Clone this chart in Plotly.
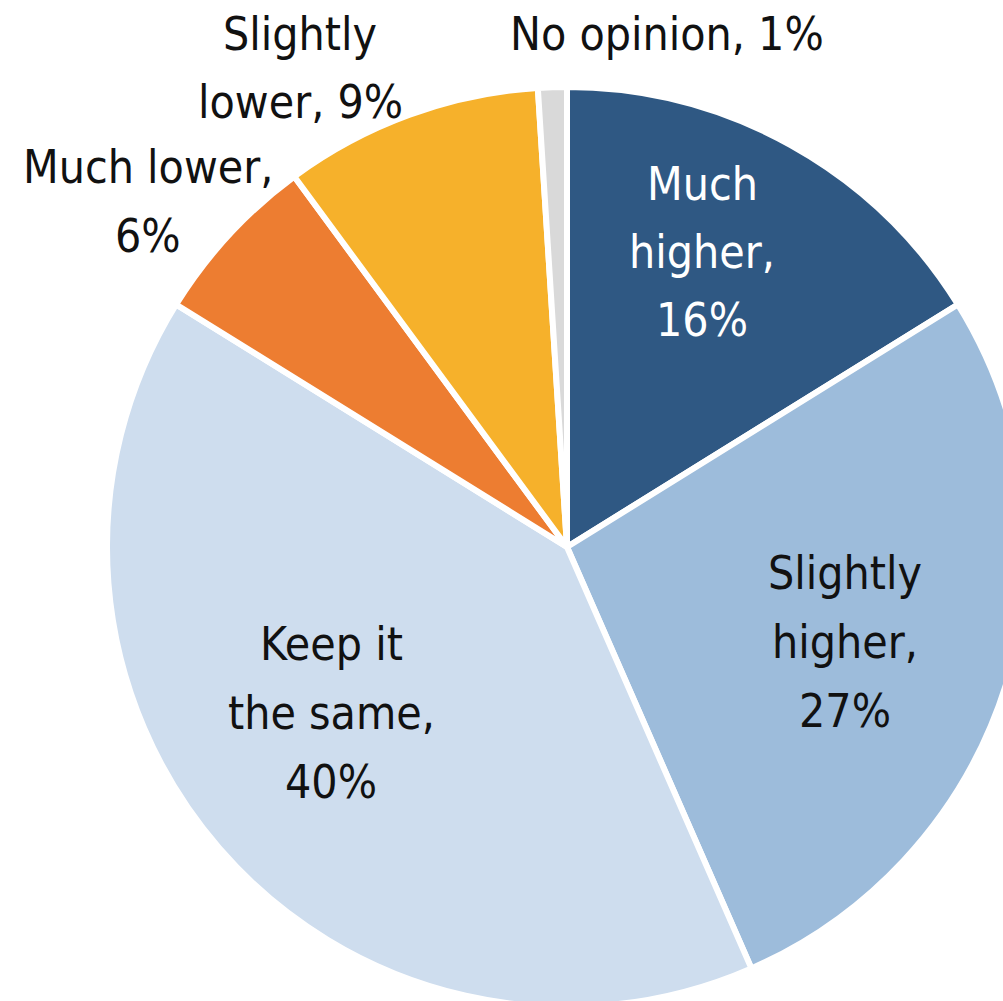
"""Pie: preferred level, cropped at right/bottom like the source image"""
import plotly.graph_objects as go

labels = ["Much higher", "Slightly higher", "Keep it the same", "Much lower", "Slightly lower", "No opinion"]
values = [16, 27, 40, 6, 9, 1]
colors = ["#2F5883", "#9DBCDB", "#CEDDEE", "#ED7D31", "#F6B12B", "#D9D9D9"]

# slice labels, one entry per line so the line spacing can follow the source
label_lines = [
    ["Much", "higher,", "16%"],
    ["Slightly", "higher,", "27%"],
    ["Keep it", "the same,", "40%"],
    ["Much lower,", "6%"],
    ["Slightly", "lower, 9%"],
    ["No opinion, 1%"],
]
label_colors = ["white", "#111111", "#111111", "#111111", "#111111", "#111111"]
# (x centre, y of first line, line step) in page pixels
label_px = [(702, 184, 68), (845, 573, 69), (331, 644, 69), (148, 167, 69), (300, 34, 68), (667, 34, 0)]

# figure is bigger than the window so the pie gets cut at right and bottom
W, H = 1027, 1007
CX, CY, R = 567, 547, 460

FONT = "Liberation Sans Narrow, DejaVu Sans Condensed, Arial Narrow, sans-serif"

fig = go.Figure(
    go.Pie(
        labels=labels,
        values=values,
        sort=False,
        direction="clockwise",
        rotation=0,
        marker=dict(colors=colors, line=dict(color="white", width=6)),
        textinfo="none",
        hoverinfo="label+percent",
        domain=dict(x=[(CX - R) / W, (CX + R) / W], y=[1 - (CY + R) / H, 1 - (CY - R) / H]),
        showlegend=False,
    )
)

for lines, col, (px, py, step) in zip(label_lines, label_colors, label_px):
    for i, line in enumerate(lines):
        fig.add_annotation(
            x=px / W, y=1 - (py + i * step) / H, xref="paper", yref="paper",
            text=line, showarrow=False, xanchor="center", yanchor="middle",
            font=dict(family=FONT, size=46, color=col),
        )

fig.update_layout(
    width=W,
    height=H,
    margin=dict(l=0, r=0, t=0, b=0),
    paper_bgcolor="white",
    plot_bgcolor="white",
)

fig.write_html(
    "out.html",
    config={"displayModeBar": False},
    post_script="document.body.style.margin='0';document.body.style.overflow='hidden';"
    "document.documentElement.style.overflow='hidden';",
)
